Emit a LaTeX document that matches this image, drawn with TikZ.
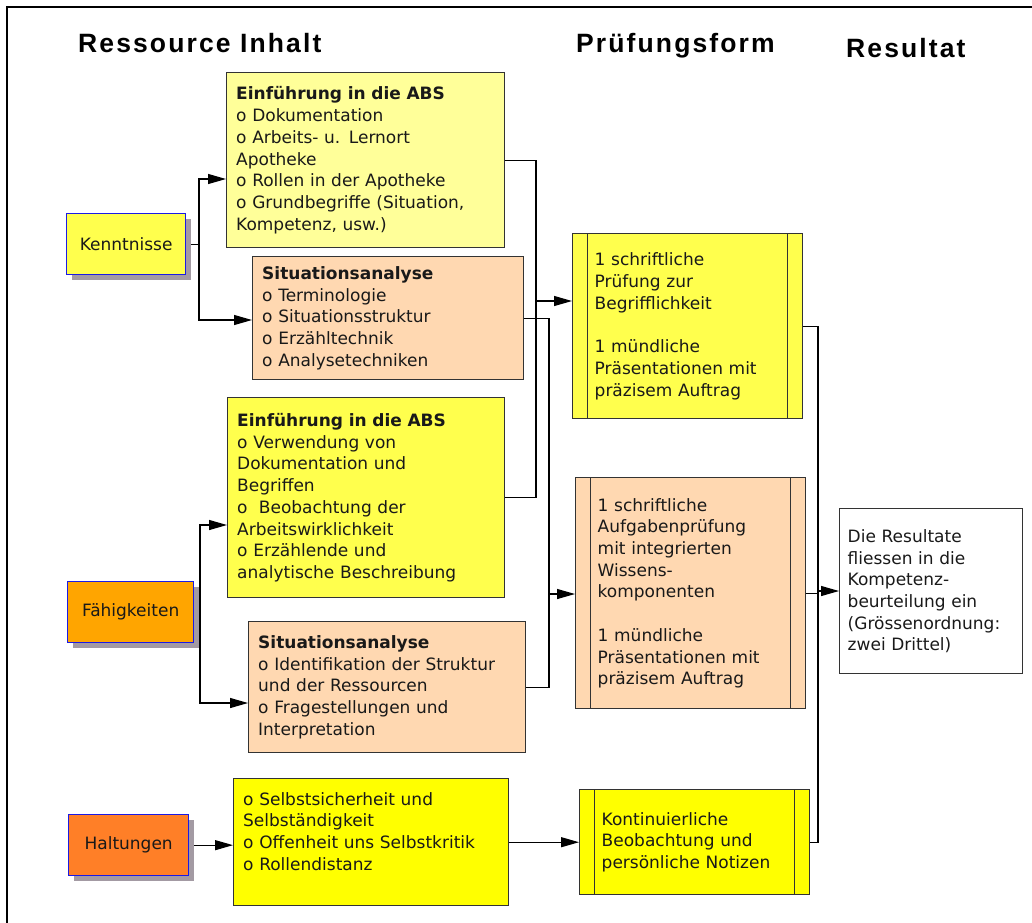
\documentclass[tikz,border=0pt]{standalone}
\usepackage{fontspec}
\setmainfont{DejaVu Sans}
\newfontfamily\titlefont{Liberation Sans}[LetterSpace=8]
\usetikzlibrary{arrows.meta,shadows,calc}
\definecolor{lyellow}{HTML}{FFFF99}
\definecolor{myellow}{HTML}{FFFF4D}
\definecolor{pyellow}{HTML}{FFFF00}
\definecolor{peach}{HTML}{FFD8B1}
\definecolor{korange}{HTML}{FFA500}
\definecolor{horange}{HTML}{FF7F27}
\definecolor{shadowc}{HTML}{A39AA3}
\definecolor{bordc}{HTML}{333333}
\definecolor{catblue}{HTML}{1A1AE6}
\begin{document}
\begin{tikzpicture}[x=1pt,y=-1pt,
  every node/.style={font=\fontsize{17}{21.7}\selectfont, text=black!90},
  cat/.style={draw=catblue, line width=1.3pt, inner sep=0pt, anchor=north west, align=center,
    drop shadow={shadow xshift=5pt, shadow yshift=-5pt, fill=shadowc, opacity=1}},
  content/.style={draw=bordc, line width=1.4pt, anchor=north west, inner ysep=0pt, inner xsep=9.5pt, align=left},
  exam/.style={draw=bordc, line width=1.4pt, anchor=north west, inner ysep=0pt, inner xsep=0pt, align=left,
    path picture={\draw[bordc, line width=1.4pt]
      ([xshift=15pt]path picture bounding box.north west) -- ([xshift=15pt]path picture bounding box.south west)
      ([xshift=-15pt]path picture bounding box.north east) -- ([xshift=-15pt]path picture bounding box.south east);}},
  conn/.style={line width=1.2pt, draw=black},
  arr/.style={conn, -{Triangle[length=18pt,width=10pt]}},
  title/.style={font=\titlefont\bfseries\fontsize{26.5}{30}\selectfont, text=black, anchor=base west, inner sep=0pt}
]
\useasboundingbox (0,0) rectangle (1032,922);
\fill[white] (0,0) rectangle (1032,922);
\draw[line width=2.4pt] (7,940) -- (7,7) -- (1045,7);

% titles
\node[title] (t1) at (78,52) {Ressource Inhalt};
\node[title] (t2) at (576,52) {Prüfungsform};
\node[title] (t3) at (846,57) {Resultat};

% categories
\node[cat, fill=myellow, minimum width=119pt, minimum height=61pt] (K) at (66,213) {Kenntnisse};
\node[cat, fill=korange, minimum width=126pt, minimum height=61pt] (F) at (67,581) {Fähigkeiten};
\node[cat, fill=horange, minimum width=120pt, minimum height=61pt] (Hal) at (68,814) {Haltungen};

% contents
\node[content, fill=lyellow, minimum width=278pt, minimum height=175pt, text width=259pt] (A1) at (226,72)
  {\textbf{Einführung in die ABS}\\o Dokumentation\\o Arbeits- u. Lernort\\Apotheke\\o Rollen in der Apotheke\\o Grundbegriffe (Situation,\\Kompetenz, usw.)};
\node[content, fill=peach, minimum width=271pt, minimum height=123pt, text width=252pt] (A2) at (252,256)
  {\textbf{Situationsanalyse}\\o Terminologie\\o Situationsstruktur\\o Erzähltechnik\\o Analysetechniken};
\node[content, fill=myellow, minimum width=277pt, minimum height=200pt, text width=258pt] (B1) at (227,397)
  {\textbf{Einführung in die ABS}\\o Verwendung von\\Dokumentation und\\Begriffen\\o\ \ Beobachtung der\\Arbeitswirklichkeit\\o Erzählende und\\analytische Beschreibung};
\node[content, fill=peach, minimum width=277pt, minimum height=131pt, text width=258pt] (C2) at (248,621)
  {\textbf{Situationsanalyse}\\o Identifikation der Struktur\\und der Ressourcen\\o Fragestellungen und\\Interpretation};
\node[content, fill=pyellow, minimum width=275pt, minimum height=127pt, text width=256pt] (H) at (233,778)
  {o Selbstsicherheit und\\Selbständigkeit\\o Offenheit uns Selbstkritik\\o Rollendistanz\\\mbox{}};

% exams
\node[exam, fill=myellow, minimum width=230pt, minimum height=185pt, text width=186pt] (P1) at (572,233)
  {1 schriftliche\\Prüfung zur\\Begrifflichkeit\\[21.7pt]1 mündliche\\Präsentationen mit\\präzisem Auftrag};
\node[exam, fill=peach, minimum width=230pt, minimum height=231pt, text width=186pt] (P2) at (575,477)
  {1 schriftliche\\Aufgabenprüfung\\mit integrierten\\Wissens-\\komponenten\\[21.7pt]1 mündliche\\Präsentationen mit\\präzisem Auftrag};
\node[exam, fill=pyellow, minimum width=230pt, minimum height=105pt, text width=186pt] (P3) at (579,789)
  {Kontinuierliche\\Beobachtung und\\persönliche Notizen};

% result
\node[content, fill=white, minimum width=183pt, minimum height=165pt, text width=167pt, inner xsep=8pt] (R) at (839,508)
  {Die Resultate\\fliessen in die\\Kompetenz-\\beurteilung ein\\(Grössenordnung:\\zwei Drittel)};

% connectors
\coordinate (kA) at (199,179);
\coordinate (kB) at (199,320);
\draw[arr] ([xshift=5pt]K.east) -| (kA) -- (kA -| A1.west);
\draw[arr] ([xshift=5pt]K.east) -| (kB) -- (kB -| A2.west);

\coordinate (kC) at (200,525);
\coordinate (kD) at (200,703);
\draw[arr] ([xshift=5pt]F.east) -| (kC) -- (kC -| B1.west);
\draw[arr] ([xshift=5pt]F.east) -| (kD) -- (kD -| C2.west);

\draw[arr] ([xshift=5pt]Hal.east) -- (Hal.east -| H.west);

\coordinate (jA) at (536,301);
\draw[conn] (A1.east) -| (jA);
\draw[arr] (B1.east) -| (jA) -- (jA -| P1.west);

\coordinate (jB) at (549,594);
\draw[conn] (A2.east) -| (jB);
\draw[arr] (C2.east) -| (jB) -- (jB -| P2.west);

\draw[arr] (H.east) -- (P3.west);

\coordinate (jR) at (818,591);
\draw[conn] (P1.east) -| (jR);
\draw[conn] (P3.east) -| (jR);
\draw[arr] (P2.east) -| (jR) -- (jR -| R.west);
\end{tikzpicture}
\end{document}
